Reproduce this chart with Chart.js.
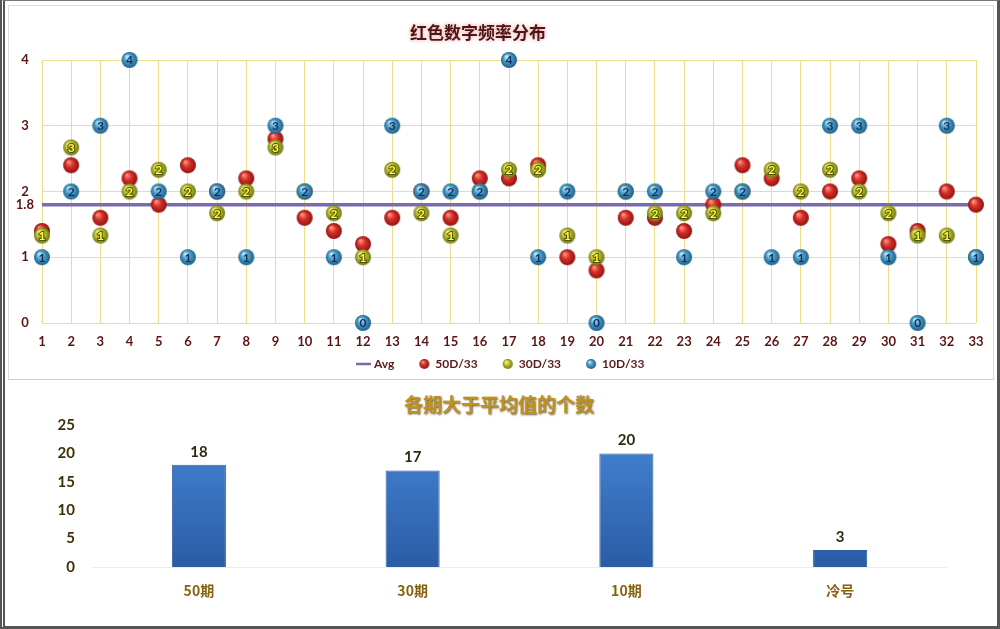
<!DOCTYPE html>
<html>
<head>
<meta charset="utf-8">
<script src="https://cdn.jsdelivr.net/npm/chart.js@4.4.1/dist/chart.umd.min.js"></script>
<style>
  html, body { margin: 0; padding: 0; background: #ffffff; }
  #wrap { position: relative; width: 1000px; height: 629px; overflow: hidden; background: #fff; }
  #frame { position: absolute; left: 0; top: 0; width: 1000px; height: 629px; box-sizing: border-box;
           border-left: 5px double #555; border-top: 1px solid #777; border-right: 3px solid #555; border-bottom: 3px solid #555; pointer-events: none; }
  #panel { position: absolute; left: 8px; top: 5px; width: 986px; height: 375px; box-sizing: border-box;
           border: 1px solid #dcdcdc; border-bottom: 1px solid #cfcfcf; pointer-events: none; }
  #c1 { position: absolute; left: 0; top: 0; }
  #c2 { position: absolute; left: 0; top: 381px; }
</style>
</head>
<body>
<div id="wrap">
  <canvas id="c1" width="1000" height="380"></canvas>
  <canvas id="c2" width="1000" height="246"></canvas>
  <div id="panel"></div>
  <div id="frame"></div>
</div>
<script>
// ---------------- DATA ----------------
const topTitle = '红色数字频率分布';
const numbers = [1,2,3,4,5,6,7,8,9,10,11,12,13,14,15,16,17,18,19,20,21,22,23,24,25,26,27,28,29,30,31,32,33];
const avgValue = 1.8;
const red50 = [1.4,2.4,1.6,2.2,1.8,2.4,2.0,2.2,2.8,1.6,1.4,1.2,1.6,2.0,1.6,2.2,2.2,2.4,1.0,0.8,1.6,1.6,1.4,1.8,2.4,2.2,1.6,2.0,2.2,1.2,1.4,2.0,1.8];
const green30 = [1.33,2.67,1.33,2,2.33,2,1.67,2,2.67,2,1.67,1,2.33,1.67,1.33,2,2.33,2.33,1.33,1,2,1.67,1.67,1.67,2,2.33,2,2.33,2,1.67,1.33,1.33,1];
const blue10 = [1,2,3,4,2,1,2,1,3,2,1,0,3,2,2,2,4,1,2,0,2,2,1,2,2,1,1,3,3,1,0,3,1];
const yTicksTop = [0,1,1.8,2,3,4];
const seriesLabels = ['Avg','50D/33','30D/33','10D/33'];

const bottomTitle = '各期大于平均值的个数';
const periods = ['50期','30期','10期','冷号'];
const aboveAvgCounts = [18,17,20,3];
const yTicksBottom = [0,5,10,15,20,25];

// ---------------- STYLE HELPERS ----------------
const FONT = "Lato, 'Noto Sans CJK SC', sans-serif";
const CJK = "'Noto Sans CJK SC', Lato, sans-serif";
const GRID = '#ebdf8e';

function sphere(r, light, base, dark) {
  const c = document.createElement('canvas');
  const s = Math.ceil(2 * r + 2);
  c.width = s; c.height = s;
  const g = c.getContext('2d');
  const cx = s / 2;
  const grad = g.createRadialGradient(cx - r * 0.35, cx - r * 0.45, r * 0.05, cx, cx, r);
  grad.addColorStop(0, light);
  grad.addColorStop(0.45, base);
  grad.addColorStop(1, dark);
  g.fillStyle = grad;
  g.beginPath(); g.arc(cx, cx, r, 0, Math.PI * 2); g.fill();
  return c;
}
const redBall = sphere(8, '#ff9a88', '#d9302a', '#8e1410');
const greenBall = sphere(8, '#f6f6a0', '#c2c236', '#6e7a12');
const blueBall = sphere(8, '#c6eefa', '#4aa2cc', '#1f5f88');
const redSmall = sphere(5, '#ff9a88', '#d9302a', '#8e1410');
const greenSmall = sphere(5, '#f6f6a0', '#c2c236', '#6e7a12');
const blueSmall = sphere(5, '#c6eefa', '#4aa2cc', '#1f5f88');

function pts(arr) { return arr.map((v, i) => ({ x: numbers[i], y: v })); }

// ---------------- TOP CHART ----------------
const pointLabelPlugin = {
  id: 'pointLabels',
  afterDatasetDraw(chart, args) {
    const ds = chart.data.datasets[args.index];
    if (!ds.showValue) return;
    const ctx = chart.ctx;
    const meta = args.meta;
    ctx.save();
    ctx.font = 'bold 12px ' + FONT;
    ctx.textAlign = 'center';
    ctx.textBaseline = 'middle';
    meta.data.forEach((el, i) => {
      const txt = String(Math.round(ds.data[i].y));
      if (ds.valueStroke) {
        ctx.lineWidth = 2.2;
        ctx.strokeStyle = ds.valueStroke;
        ctx.strokeText(txt, el.x, el.y + 0.5);
      }
      ctx.fillStyle = ds.valueColor;
      ctx.fillText(txt, el.x, el.y + 0.5);
    });
    ctx.restore();
  }
};

const topDecorPlugin = {
  id: 'topDecor',
  afterDraw(chart) {
    const ctx = chart.ctx;
    ctx.save();
    ctx.font = 'bold 17px ' + CJK;
    ctx.textAlign = 'center';
    ctx.textBaseline = 'middle';
    ctx.shadowColor = 'rgba(235,120,120,0.75)';
    ctx.shadowBlur = 4;
    ctx.fillStyle = '#4a1616';
    ctx.fillText(topTitle, 478, 33);
    ctx.shadowBlur = 0; ctx.shadowColor = 'transparent';
    ctx.font = 'bold 12px ' + FONT;
    ctx.textAlign = 'left';
    const y = 364;
    let x = 356;
    chart.data.datasets.forEach((ds) => {
      if (ds.legendKind === 'line') {
        ctx.strokeStyle = ds.borderColor;
        ctx.lineWidth = 2.5;
        ctx.beginPath(); ctx.moveTo(x, y); ctx.lineTo(x + 15, y); ctx.stroke();
        x += 18;
      } else {
        ctx.drawImage(ds.legendImg, x - 1, y - 6);
        x += 16;
      }
      ctx.fillStyle = '#5a1a1a';
      ctx.fillText(ds.label, x, y + 0.5);
      x += ctx.measureText(ds.label).width + 25;
    });
    ctx.restore();
  }
};

new Chart(document.getElementById('c1'), {
  type: 'scatter',
  data: {
    datasets: [
      { type: 'line', label: seriesLabels[0], data: [{x: numbers[0], y: avgValue}, {x: numbers[numbers.length - 1], y: avgValue}],
        borderColor: '#7a6aae', borderWidth: 3.5, pointRadius: 0, order: 4, legendKind: 'line' },
      { label: seriesLabels[1], data: pts(red50), pointStyle: redBall, pointRadius: 8, order: 3, legendImg: redSmall },
      { label: seriesLabels[2], data: pts(green30), pointStyle: greenBall, pointRadius: 8, order: 2, legendImg: greenSmall,
        showValue: true, valueColor: '#ffff3a', valueStroke: 'rgba(70,70,0,0.85)' },
      { label: seriesLabels[3], data: pts(blue10), pointStyle: blueBall, pointRadius: 8, order: 1, legendImg: blueSmall,
        showValue: true, valueColor: '#1b2a5e' }
    ]
  },
  options: {
    responsive: false, animation: false, devicePixelRatio: 1,
    clip: false,
    layout: { padding: { left: 0, right: 24, top: 60, bottom: 27 } },
    plugins: { legend: { display: false }, title: { display: false }, tooltip: { enabled: false } },
    scales: {
      x: {
        type: 'linear', min: 1, max: 33,
        afterBuildTicks: (s) => { s.ticks = numbers.map(v => ({ value: v })); },
        afterFit: (s) => { s.height = 30; },
        grid: { color: GRID, lineWidth: 1, drawTicks: false },
        border: { display: false },
        ticks: { autoSkip: false, maxRotation: 0, padding: 11, color: '#5c1414', font: { family: FONT, size: 13, weight: 'bold' },
                 callback: (v) => String(v) }
      },
      y: {
        type: 'linear', min: 0, max: 4,
        afterBuildTicks: (s) => { s.ticks = yTicksTop.map(v => ({ value: v })); },
        afterFit: (s) => { s.width = 42; },
        grid: { color: (c) => (c.tick && c.tick.value === avgValue) ? 'rgba(0,0,0,0)' : GRID, lineWidth: 1, drawTicks: false },
        border: { display: false },
        ticks: { padding: 8, crossAlign: 'center', color: '#5c1414', font: { family: FONT, size: 13, weight: 'bold' },
                 callback: (v) => String(v) }
      }
    }
  },
  plugins: [pointLabelPlugin, topDecorPlugin]
});

// ---------------- BOTTOM CHART ----------------
const barDecorPlugin = {
  id: 'barDecor',
  beforeDatasetsDraw(chart) {
    const ctx = chart.ctx;
    const ca = chart.chartArea;
    ctx.save();
    ctx.strokeStyle = '#ececec';
    ctx.lineWidth = 1;
    ctx.beginPath(); ctx.moveTo(ca.left, ca.bottom + 0.5); ctx.lineTo(ca.right, ca.bottom + 0.5); ctx.stroke();
    ctx.restore();
  },
  afterDatasetsDraw(chart) {
    const ctx = chart.ctx;
    const meta = chart.getDatasetMeta(0);
    const ds = chart.data.datasets[0];
    ctx.save();
    ctx.font = 'bold 15px ' + FONT;
    ctx.textAlign = 'center';
    ctx.textBaseline = 'middle';
    ctx.fillStyle = '#2e2a12';
    meta.data.forEach((el, i) => { ctx.fillText(String(ds.data[i]), el.x, el.y - 13); });
    ctx.restore();
  },
  afterDraw(chart) {
    const ctx = chart.ctx;
    ctx.save();
    ctx.font = 'bold 19px ' + CJK;
    ctx.textAlign = 'center';
    ctx.textBaseline = 'middle';
    ctx.shadowColor = 'rgba(70,45,0,0.75)';
    ctx.shadowBlur = 2; ctx.shadowOffsetX = 1; ctx.shadowOffsetY = 1;
    ctx.fillStyle = '#be9220';
    ctx.fillText(bottomTitle, 499, 24);
    ctx.restore();
  }
};

new Chart(document.getElementById('c2'), {
  type: 'bar',
  data: {
    labels: periods,
    datasets: [{
      label: 'count', data: aboveAvgCounts,
      backgroundColor: (c) => {
        const ch = c.chart; const ca = ch.chartArea;
        if (!ca) return '#3a78c8';
        const g = ch.ctx.createLinearGradient(0, ca.top, 0, ca.bottom);
        g.addColorStop(0, '#4586d6'); g.addColorStop(1, '#2b5ca6');
        return g;
      },
      borderColor: '#2d5d9e', borderWidth: 1,
      categoryPercentage: 1, barPercentage: 0.253
    }]
  },
  options: {
    responsive: false, animation: false, devicePixelRatio: 1,
    layout: { padding: { left: 0, right: 53, top: 44, bottom: 20 } },
    plugins: { legend: { display: false }, title: { display: false }, tooltip: { enabled: false } },
    scales: {
      x: {
        afterFit: (s) => { s.height = 40; },
        grid: { display: false, drawTicks: false }, border: { display: false },
        ticks: { padding: 15, color: '#86630e', font: { family: CJK, size: 14, weight: 'bold' } }
      },
      y: {
        min: 0, max: 25,
        afterBuildTicks: (s) => { s.ticks = yTicksBottom.map(v => ({ value: v })); },
        afterFit: (s) => { s.width = 92; },
        grid: { display: false, drawTicks: false }, border: { display: false },
        ticks: { padding: 17, color: '#3e300a', font: { family: FONT, size: 15, weight: 'bold' } }
      }
    }
  },
  plugins: [barDecorPlugin]
});
</script>
</body>
</html>
